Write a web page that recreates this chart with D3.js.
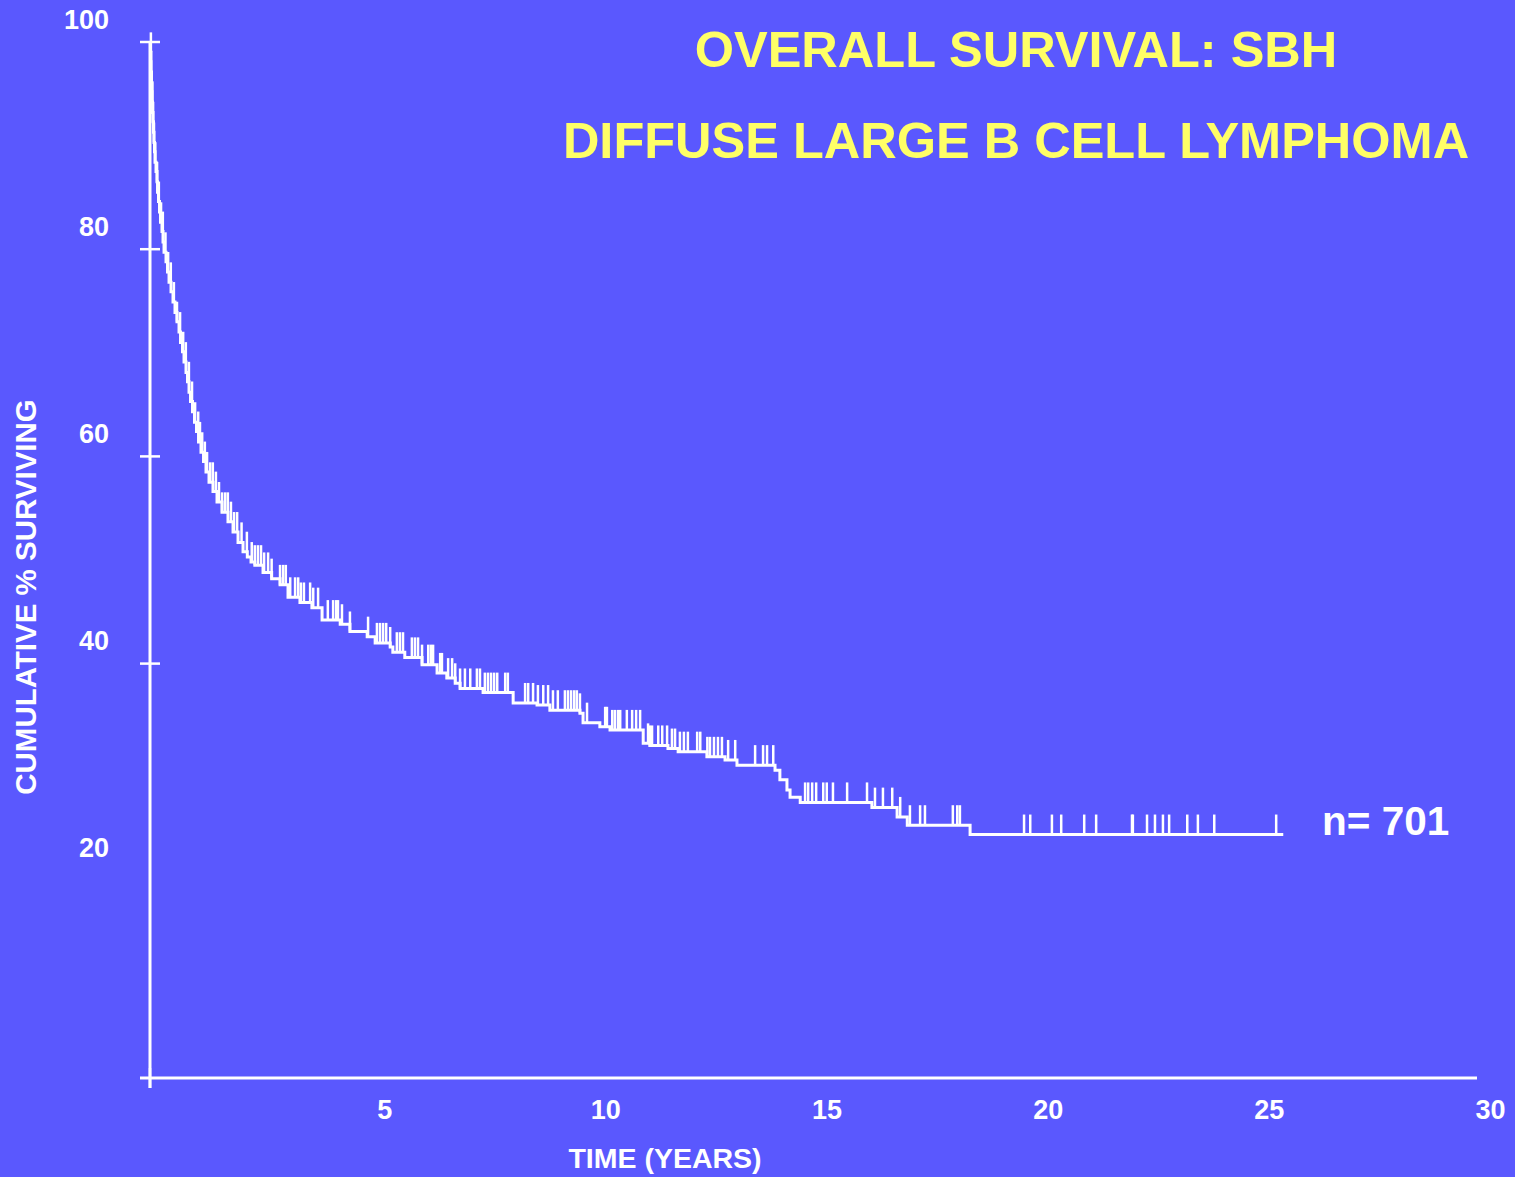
<!DOCTYPE html>
<html>
<head>
<meta charset="utf-8">
<script src="https://cdn.jsdelivr.net/npm/d3@7"></script>
<style>
  html, body { margin: 0; padding: 0; background: #5a58fe; }
  svg { display: block; }
  text { font-family: "Liberation Sans", Arial, sans-serif; font-weight: bold; }
</style>
</head>
<body>
<svg id="chart" width="1515" height="1177"></svg>
<script>
// ---- data ----
const titleLines = ["OVERALL SURVIVAL: SBH", "DIFFUSE LARGE B CELL LYMPHOMA"];
const xLabel = "TIME (YEARS)";
const yLabel = "CUMULATIVE % SURVIVING";
const nLabel = "n= 701";

const xTicks = [5, 10, 15, 20, 25, 30];
const yTicks = [20, 40, 60, 80, 100];
const yTickMarks = [40, 60, 80, 100];

// Kaplan-Meier step points: time (years) at which survival drops to the given level (%)
const stepTimes = [0, 0.011, 0.023, 0.027, 0.034, 0.045, 0.050, 0.057, 0.068, 0.079, 0.090,
  0.102, 0.113, 0.136, 0.158, 0.170, 0.192, 0.215, 0.237, 0.271, 0.294, 0.317, 0.362, 0.396,
  0.430, 0.475, 0.520, 0.565, 0.610, 0.656, 0.690, 0.735, 0.769, 0.814, 0.848, 0.882, 0.916,
  0.961, 1.006, 1.051, 1.097, 1.153, 1.210, 1.266, 1.334, 1.424, 1.515, 1.628, 1.763, 1.877,
  1.990, 2.103, 2.20, 2.284, 2.37, 2.555, 2.75, 2.94, 3.12, 3.39, 3.66, 3.89, 4.30, 4.52,
  4.91, 5.09, 5.43, 5.49, 5.76, 6.15, 6.49, 6.71, 6.90, 7.01, 7.53, 8.21, 8.75, 9.04, 9.72,
  9.79, 10.17, 10.40, 11.15, 11.30, 11.71, 11.94, 12.59, 13.00, 13.27, 14.13, 14.24, 14.40,
  14.47, 14.70, 16.32, 16.89, 17.12, 18.54];
const stepSurvival = [100, 99.0, 98.1, 97.1, 96.1, 95.2, 94.2, 93.2, 92.3, 91.3, 90.3,
  89.4, 88.4, 87.5, 86.5, 85.5, 84.6, 83.6, 82.6, 81.7, 80.7, 79.7, 78.8, 77.8,
  76.8, 75.9, 74.9, 73.9, 73.0, 72.0, 71.0, 70.1, 69.1, 68.1, 67.2, 66.2, 65.3,
  64.3, 63.3, 62.4, 61.4, 60.4, 59.5, 58.5, 57.5, 56.6, 55.6, 54.6, 53.7, 52.7,
  51.7, 50.8, 50.3, 49.8, 49.5, 48.8, 48.2, 47.6, 46.4, 45.9, 45.4, 44.2, 43.8, 43.1,
  42.6, 42.0, 41.6, 41.1, 40.6, 39.9, 39.1, 38.6, 38.1, 37.6, 37.2, 36.2, 36.0, 35.5, 35.2,
  34.3, 33.9, 33.6, 32.3, 32.1, 31.8, 31.5, 31.0, 30.7, 30.2, 29.7, 28.8, 27.8,
  27.1, 26.6, 26.1, 25.2, 24.4, 23.5];
const lastFollowUp = 25.62;

// censored observations (years)
const censorTimes = [0.02, 0.05, 0.07, 0.09, 0.12, 0.16, 0.20, 0.25, 0.29, 0.35, 0.41, 0.47,
  0.54, 0.61, 0.68, 0.75, 0.81, 0.88, 0.95, 1.02, 1.09, 1.13, 1.18, 1.24, 1.29, 1.36, 1.42,
  1.49, 1.56, 1.63, 1.70, 1.76, 1.83, 1.90, 1.97,
  2.07, 2.19, 2.30, 2.37, 2.44, 2.51, 2.58, 2.67, 2.75, 2.94, 3.01, 3.07, 3.17, 3.28, 3.35,
  3.41, 3.48, 3.62, 3.69, 3.80, 4.02, 4.14, 4.21, 4.25, 4.34, 4.52, 4.93, 5.13, 5.20, 5.27,
  5.34, 5.43, 5.58, 5.65, 5.72, 5.92, 5.99, 6.06, 6.15, 6.29, 6.35, 6.40, 6.56, 6.60, 6.74,
  6.83, 6.90, 7.01, 7.12, 7.24, 7.39, 7.46, 7.57, 7.64, 7.71, 7.78, 7.85, 8.03, 8.09, 8.48,
  8.55, 8.66, 8.77, 8.89, 9.00, 9.11, 9.22, 9.38, 9.45, 9.52, 9.59, 9.65, 9.72, 9.88, 10.29,
  10.33, 10.45, 10.51, 10.58, 10.63, 10.78, 10.90, 10.99, 11.08, 11.26, 11.30, 11.35, 11.49,
  11.58, 11.69, 11.80, 11.87, 11.98, 12.07, 12.16, 12.37, 12.44, 12.60, 12.66, 12.75, 12.84,
  12.93, 13.07, 13.23, 13.68, 13.86, 13.95, 14.09, 14.81, 14.88, 14.97, 15.06, 15.22, 15.30,
  15.44, 15.76, 16.21, 16.39, 16.57, 16.78, 16.96, 17.18, 17.41, 17.52, 18.15, 18.25, 18.31,
  19.76, 19.90, 20.39, 20.60, 21.12, 21.39, 22.20, 22.22, 22.54, 22.72, 22.90, 23.04, 23.45,
  23.69, 24.06, 25.46];

// ---- drawing ----
const svg = d3.select("#chart");
const W = 1515, H = 1177;
const bg = "#5a58fe", ink = "#ffffff", yellow = "#ffff66";

svg.append("rect").attr("width", W).attr("height", H).attr("fill", bg);

const x = d3.scaleLinear().domain([0, 30]).range([150, 1477]);
const y = d3.scaleLinear().domain([0, 100]).range([1078, 42]);

// axes lines
svg.append("line").attr("x1", x(0)).attr("x2", x(0)).attr("y1", y(100)).attr("y2", y(0) + 10)
  .attr("stroke", ink).attr("stroke-width", 3);
svg.append("line").attr("x1", x(0) - 10).attr("x2", x(30)).attr("y1", y(0)).attr("y2", y(0))
  .attr("stroke", ink).attr("stroke-width", 3);
// crossing tick marks on y axis
svg.selectAll("line.ytm").data(yTickMarks).enter().append("line").attr("class", "ytm")
  .attr("x1", x(0) - 10).attr("x2", x(0) + 10)
  .attr("y1", d => y(d)).attr("y2", d => y(d))
  .attr("stroke", ink).attr("stroke-width", 2.5);
// tick at origin on x axis
svg.append("line").attr("x1", x(0)).attr("x2", x(0)).attr("y1", y(0) - 10).attr("y2", y(0) + 10)
  .attr("stroke", ink).attr("stroke-width", 2.5);

// tick labels via d3 axes (tick lines hidden)
const yAxis = d3.axisLeft(y).tickValues(yTicks).tickSize(0).tickPadding(0).tickFormat(d3.format("d"));
const gy = svg.append("g").attr("transform", "translate(109,-14)").call(yAxis);
gy.select(".domain").remove();
gy.selectAll("text").attr("fill", ink).attr("font-size", 27)
  .attr("font-family", "Liberation Sans, Arial, sans-serif").attr("font-weight", "bold")
  .attr("dy", "0").attr("x", 0);

const xAxis = d3.axisBottom(x).tickValues(xTicks).tickSize(0).tickPadding(0).tickFormat(d3.format("d"));
const gx = svg.append("g").attr("transform", "translate(13,1119)").call(xAxis);
gx.select(".domain").remove();
gx.selectAll("text").attr("fill", ink).attr("font-size", 27)
  .attr("font-family", "Liberation Sans, Arial, sans-serif").attr("font-weight", "bold")
  .attr("dy", "0").attr("y", 0);

// axis titles
svg.append("text").attr("x", 665).attr("y", 1168).attr("text-anchor", "middle")
  .attr("font-size", 28.5).attr("fill", ink).text(xLabel);
svg.append("text").attr("transform", "translate(36,597) rotate(-90)").attr("text-anchor", "middle")
  .attr("font-size", 29.5).attr("fill", ink).text(yLabel);

// titles
svg.append("text").attr("x", 1016).attr("y", 67).attr("text-anchor", "middle")
  .attr("font-size", 50.5).attr("fill", yellow).text(titleLines[0]);
svg.append("text").attr("x", 1016).attr("y", 158).attr("text-anchor", "middle")
  .attr("font-size", 50.5).attr("fill", yellow).text(titleLines[1]);

// n label
svg.append("text").attr("x", 1322).attr("y", 835).attr("font-size", 40.5)
  .attr("fill", ink).text(nLabel);

// KM curve
const pts = stepTimes.map((t, i) => ({ t, s: stepSurvival[i] }));
pts.push({ t: lastFollowUp, s: stepSurvival[stepSurvival.length - 1] });
const line = d3.line().x(d => x(d.t)).y(d => y(d.s)).curve(d3.curveStepAfter);
svg.append("path").datum(pts).attr("d", line).attr("fill", "none")
  .attr("stroke", ink).attr("stroke-width", 3);

// censor ticks
const levelAt = t => stepSurvival[Math.max(0, d3.bisectRight(stepTimes, t) - 1)];
const tickH = 20;
svg.selectAll("line.cens").data(censorTimes).enter().append("line").attr("class", "cens")
  .attr("x1", d => x(d)).attr("x2", d => x(d))
  .attr("y1", d => y(levelAt(d))).attr("y2", d => y(levelAt(d)) - tickH)
  .attr("stroke", ink).attr("stroke-width", 2.5);
</script>
</body>
</html>
